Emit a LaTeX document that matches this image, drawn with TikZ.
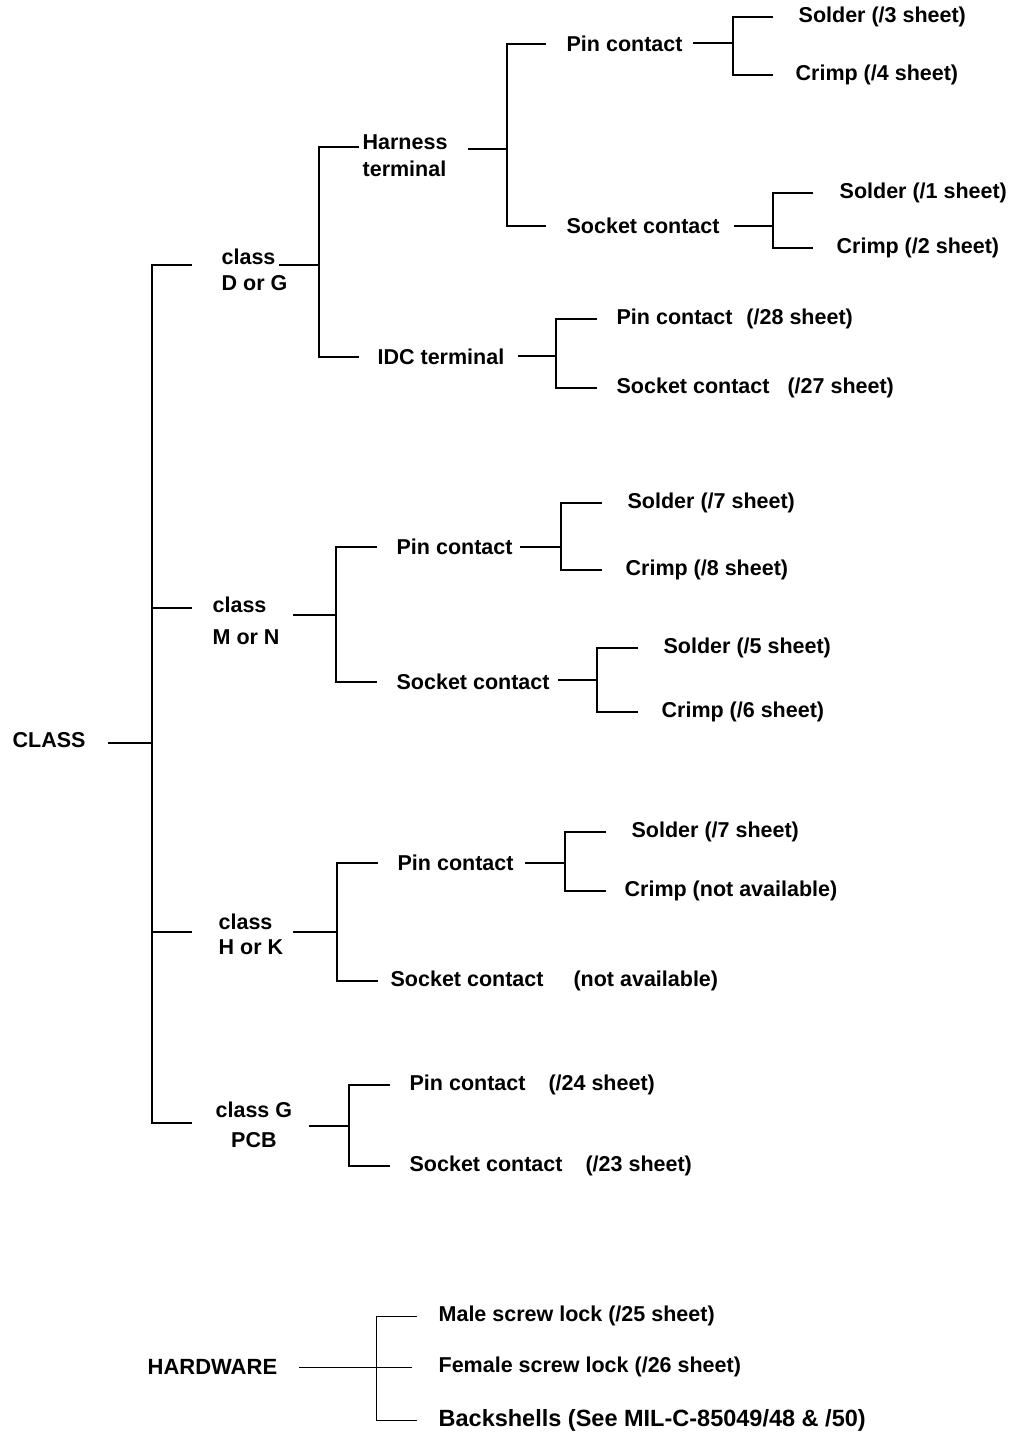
\documentclass[tikz,border=0pt]{standalone}
\usepackage{fontspec}
\setmainfont{Liberation Sans}

\begin{document}
\begin{tikzpicture}
  [x=1pt, y=-1pt, line width=1.3pt,
  every node/.style={anchor=west, inner sep=0pt, font=\bfseries\fontsize{21.5}{26}\selectfont},
  hwline/.style={line width=0.9pt}]

  \useasboundingbox (0,0) rectangle (1015,1435);

  % labels
  \node (root) at (12,740) {CLASS};
  \node[align=left] (dg) at (221,270) {class\\D or G};
  \node[align=left] (mn) at (212,621) {class\\[6pt]M or N};
  \node[align=left] (hk) at (218,934) {class\\[-1pt]H or K};
  \node[align=center] (gp) at (215,1125) {class G\\[4pt]PCB};

  \node[align=left] (harness) at (362,156) {Harness\\[1pt]terminal};
  \node (idc) at (377,357) {IDC terminal};
  \node (pinH) at (566,44) {Pin contact};
  \node (sockH) at (566,226) {Socket contact};
  \node (solder3) at (798,17) {Solder (/3 sheet)};
  \node (crimp4) at (795,75) {Crimp (/4 sheet)};
  \node (solder1) at (839,193) {Solder (/1 sheet)};
  \node (crimp2) at (836,248) {Crimp (/2 sheet)};
  \node (pinI) at (616,319) {Pin contact\hspace{8pt} (/28 sheet)};
  \node (sockI) at (616,388) {Socket contact\hspace{12pt} (/27 sheet)};

  \node (pinM) at (396,547) {Pin contact};
  \node (sockM) at (396,682) {Socket contact};
  \node (solder7) at (627,503) {Solder (/7 sheet)};
  \node (crimp8) at (625,570) {Crimp (/8 sheet)};
  \node (solder5) at (663,648) {Solder (/5 sheet)};
  \node (crimp6) at (661,712) {Crimp (/6 sheet)};

  \node (pinK) at (397,863) {Pin contact};
  \node (sockK) at (390,981) {Socket contact\hspace{24pt} (not available)};
  \node (solder7k) at (631,832) {Solder (/7 sheet)};
  \node (crimpK) at (624,891) {Crimp (not available)};

  \node (pinG) at (409,1085) {Pin contact\hspace{17pt} (/24 sheet)};
  \node (sockG) at (409,1166) {Socket contact\hspace{17pt} (/23 sheet)};

  \node[font=\bfseries\fontsize{22}{26}\selectfont] (hw) at (147,1367) {HARDWARE};
  \node (male) at (438,1316) {Male screw lock (/25 sheet)};
  \node (female) at (438,1367) {Female screw lock (/26 sheet)};
  \node[font=\bfseries\fontsize{23.5}{26}\selectfont] (backsh) at (438,1420) {Backshells (See MIL-C-85049/48 \& /50)};

  % junctions
  \coordinate (j0) at (152,743);
  \coordinate (jdg) at (319,265);
  \coordinate (jharn) at (507,149);
  \coordinate (jpinH) at (733,43);
  \coordinate (jsockH) at (773,226);
  \coordinate (jidc) at (556,356);
  \coordinate (jmn) at (336,615);
  \coordinate (jpinM) at (561,547);
  \coordinate (jsockM) at (597,680);
  \coordinate (jhk) at (337,932);
  \coordinate (jpinK) at (565,863);
  \coordinate (jgp) at (349,1126);
  \coordinate (jhw) at (376,1367);

  % CLASS
  \draw ([xshift=-44pt]j0) -- (j0);
  \draw ([xshift=40pt,yshift=5pt]j0 |- dg.west) -- ([yshift=5pt]j0 |- dg.west)
    -- ([yshift=2pt]j0 |- gp.west) -- ++(40,0);
  \draw ([yshift=13pt]j0 |- mn.west) -- ++(40,0);
  \draw ([yshift=2pt]j0 |- hk.west) -- ++(40,0);

  % class D or G
  \draw ([xshift=-40pt]jdg) -- (jdg);
  \draw ([xshift=40pt,yshift=9pt]jdg |- harness.west) -- ([yshift=9pt]jdg |- harness.west)
    -- (jdg |- idc.west) -- ++(40,0);
  \draw ([xshift=-39pt]jharn) -- (jharn);
  \draw ([xshift=39pt]jharn |- pinH.west) -- (jharn |- pinH.west) -- (jharn |- sockH.west) -- ++(39,0);
  \draw ([xshift=-40pt]jpinH) -- (jpinH);
  \draw ([xshift=40pt]jpinH |- solder3.west) -- (jpinH |- solder3.west) -- (jpinH |- crimp4.west) -- ++(40,0);
  \draw ([xshift=-39pt]jsockH) -- (jsockH);
  \draw ([xshift=40pt]jsockH |- solder1.west) -- (jsockH |- solder1.west) -- (jsockH |- crimp2.west) -- ++(40,0);
  \draw ([xshift=-38pt]jidc) -- (jidc);
  \draw ([xshift=41pt]jidc |- pinI.west) -- (jidc |- pinI.west) -- (jidc |- sockI.west) -- ++(41,0);

  % class M or N
  \draw ([xshift=-43pt]jmn) -- (jmn);
  \draw ([xshift=41pt]jmn |- pinM.west) -- (jmn |- pinM.west) -- (jmn |- sockM.west) -- ++(41,0);
  \draw ([xshift=-41pt]jpinM) -- (jpinM);
  \draw ([xshift=41pt]jpinM |- solder7.west) -- (jpinM |- solder7.west) -- (jpinM |- crimp8.west) -- ++(41,0);
  \draw ([xshift=-39pt]jsockM) -- (jsockM);
  \draw ([xshift=41pt]jsockM |- solder5.west) -- (jsockM |- solder5.west) -- (jsockM |- crimp6.west) -- ++(41,0);

  % class H or K
  \draw ([xshift=-44pt]jhk) -- (jhk);
  \draw ([xshift=41pt]jhk |- pinK.west) -- (jhk |- pinK.west) -- (jhk |- sockK.west) -- ++(41,0);
  \draw ([xshift=-40pt]jpinK) -- (jpinK);
  \draw ([xshift=41pt]jpinK |- solder7k.west) -- (jpinK |- solder7k.west) -- (jpinK |- crimpK.west) -- ++(41,0);

  % class G PCB
  \draw ([xshift=-40pt]jgp) -- (jgp);
  \draw ([xshift=41pt]jgp |- pinG.west) -- (jgp |- pinG.west) -- (jgp |- sockG.west) -- ++(41,0);

  % HARDWARE
  \draw[hwline] ([xshift=-77pt]jhw) -- ([xshift=36pt]jhw);
  \draw[hwline] ([xshift=41pt]jhw |- male.west) -- (jhw |- male.west) -- (jhw |- backsh.west) -- ++(41,0);
\end{tikzpicture}
\end{document}
